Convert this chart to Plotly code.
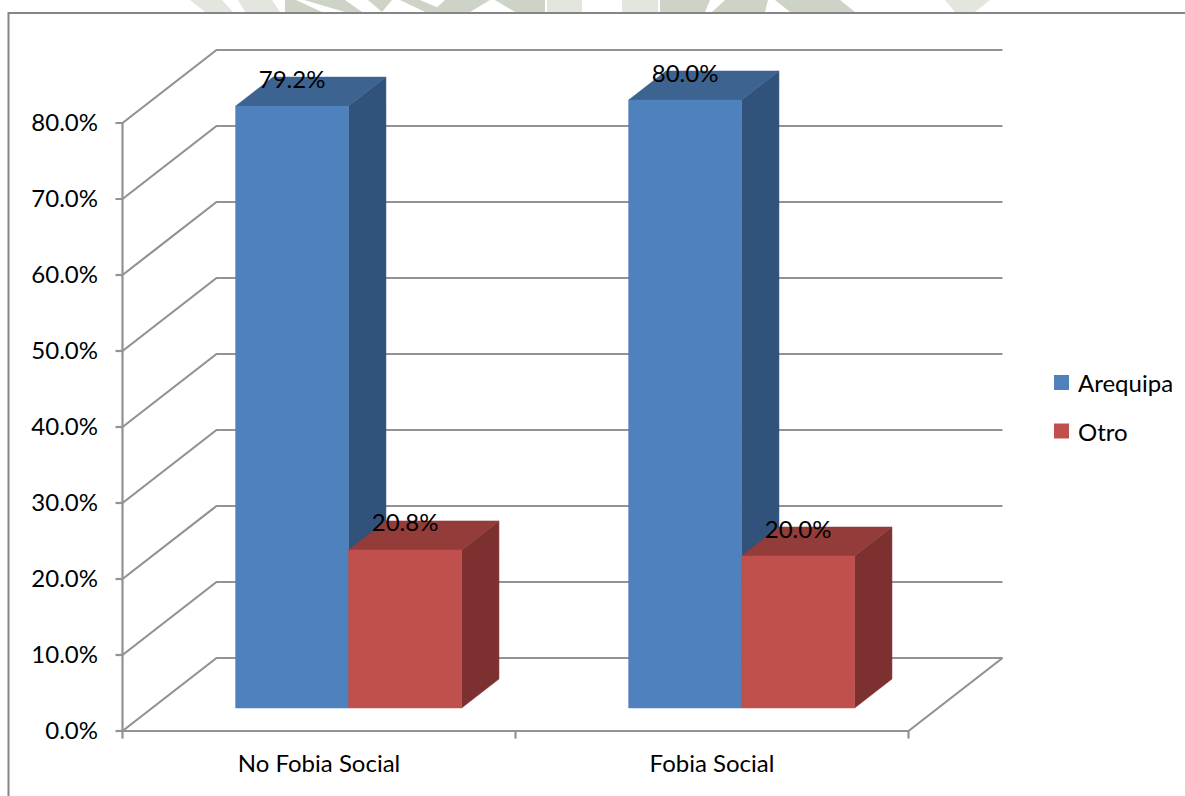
import plotly.graph_objects as go

categories = ["No Fobia Social", "Fobia Social"]
series_names = ["Arequipa", "Otro"]
arequipa = [79.2, 80.0]
otro = [20.8, 20.0]
tick_values = [0, 10, 20, 30, 40, 50, 60, 70, 80]

BLUE, BLUE_TOP, BLUE_SIDE = "#4f81bd", "#3d6390", "#31527a"
RED, RED_TOP, RED_SIDE = "#c0504d", "#933c3a", "#7c3130"
GRID = "#929292"
FONT = "Lato, Carlito, sans-serif"
FS = 24

W, H = 1185, 796
# page-pixel position of the chart box
X0_PX, X1_PX, Y0_PX, Y1_PX = 122.5, 1003.5, 731.0, 48.0
# extended plot window so tick stubs are inside the axes
XL_PX, YB_PX = 108.0, 745.0
CAT_PX = 393.0
PX_PER_PCT = 7.6

BOX_DX = 94.0 / CAT_PX
BOX_DY = 73.0 / PX_PER_PCT
D_START = 23.0 / 73.0
D_SPAN = 29.0 / 73.0
BAR_W = 113.0 / CAT_PX
X_MIN = -(X0_PX - XL_PX) / CAT_PX
X_MAX = (X1_PX - X0_PX) / CAT_PX
Y_MIN = -(YB_PX - Y0_PX) / PX_PER_PCT
Y_MAX = (Y0_PX - Y1_PX) / PX_PER_PCT


def proj(x, v, d):
    return x + d * BOX_DX, v + d * BOX_DY


def poly(points, color):
    xs = [p[0] for p in points] + [points[0][0]]
    ys = [p[1] for p in points] + [points[0][1]]
    return go.Scatter(x=xs, y=ys, mode="lines", fill="toself", fillcolor=color,
                      line=dict(color=color, width=0.5), hoverinfo="skip", showlegend=False)


def line(xs, ys, width=2.2):
    return go.Scatter(x=xs, y=ys, mode="lines", line=dict(color=GRID, width=width),
                      hoverinfo="skip", showlegend=False)


fig = go.Figure()

for v in tick_values:
    a = proj(0, v, 0)
    b = proj(0, v, 1)
    c = proj(len(categories), v, 1)
    fig.add_trace(line([a[0], b[0], c[0]], [a[1], b[1], c[1]]))
end = proj(len(categories), 0, 1)
fig.add_trace(line([0, len(categories), end[0]], [0, 0, end[1]]))
fig.add_trace(line([0, 0], [0, tick_values[-1]]))
for i in range(len(categories) + 1):
    fig.add_trace(line([i, i], [0, -1.0]))
for v in tick_values:
    fig.add_trace(line([-7.0 / CAT_PX, 0], [v, v]))


def add_bar(x_left, value, front, top, side):
    x_right = x_left + BAR_W
    d0, d1 = D_START, D_START + D_SPAN
    fl = proj(x_left, 0, d0)
    fr = proj(x_right, 0, d0)
    tl = proj(x_left, value, d0)
    tr = proj(x_right, value, d0)
    bl = proj(x_left, value, d1)
    br = proj(x_right, value, d1)
    rb = proj(x_right, 0, d1)
    fig.add_trace(poly([fr, tr, br, rb], side))
    fig.add_trace(poly([tl, tr, br, bl], top))
    fig.add_trace(poly([fl, fr, tr, tl], front))


GAP = (1 - 2 * BAR_W) / 2
for i in range(len(categories)):
    add_bar(i + GAP, arequipa[i], BLUE, BLUE_TOP, BLUE_SIDE)
    add_bar(i + GAP + BAR_W, otro[i], RED, RED_TOP, RED_SIDE)

# Data labels: centred on the front face horizontally, near the top back edge vertically
LABEL_DROP = 0.6
for i in range(len(categories)):
    for offset, val in ((GAP, arequipa[i]), (GAP + BAR_W, otro[i])):
        xf, _ = proj(i + offset + BAR_W / 2, val, D_START)
        _, yb = proj(i + offset + BAR_W / 2, val, D_START + D_SPAN)
        fig.add_trace(go.Scatter(x=[xf], y=[yb - LABEL_DROP], mode="text", text=[f"{val:.1f}%"],
                                 textposition="middle center", hoverinfo="skip", showlegend=False,
                                 textfont=dict(family=FONT, size=FS, color="#000000")))

WM = "#cdd3c6"
WM_PALE = "#e3e6df"
watermark = [
    ("M190,0 L205,12 L233,12 L222,0 Z", WM_PALE),
    ("M238,0 L245,12 L280,12 L272,0 Z", WM_PALE),
    ("M285,0 L285,12 L322,12 L296,0 Z", WM),
    ("M304,0 L345,12 L362,12 L345,0 Z", WM),
    ("M368,0 L382,12 L392,0 Z", WM),
    ("M400,0 L425,12 L448,12 L420,0 Z", WM),
    ("M445,0 L432,12 L470,12 L490,0 Z", WM),
    ("M495,0 L515,12 L545,12 L545,0 Z", WM),
    ("M547,0 L547,12 L582,12 L582,0 Z", WM_PALE),
    ("M622,0 L622,12 L658,12 L658,0 Z", WM_PALE),
    ("M660,0 L660,12 L705,12 L710,0 Z", WM),
    ("M725,0 L712,12 L765,12 L768,0 Z", WM),
    ("M775,0 L790,12 L855,12 L840,0 Z", WM),
    ("M945,0 L955,12 L975,12 L990,0 Z", WM_PALE),
]


def fx(x):
    return x / W


def fy(y):
    return 1 - y / H


def px_path(path):
    out = []
    for tok in path.split():
        if tok == "Z":
            out.append("Z")
            continue
        cmd, rest = tok[0], tok[1:]
        x, y = rest.split(",")
        out.append(f"{cmd}{fx(float(x)):.5f},{fy(float(y)):.5f}")
    return " ".join(out)


shapes = [dict(type="path", path=px_path(p), xref="paper", yref="paper", fillcolor=c,
               line=dict(width=0), layer="below") for p, c in watermark]
shapes.append(dict(type="path", xref="paper", yref="paper",
                   path=px_path("M8.5,800 L8.5,13 L1190,13"),
                   line=dict(color="#858585", width=2), layer="below"))

annotations = []
for name, color, cy in zip(series_names, [BLUE, RED], [382.5, 431.0]):
    shapes.append(dict(type="rect", xref="paper", yref="paper", x0=fx(1054), x1=fx(1069),
                       y0=fy(cy + 7.5), y1=fy(cy - 7.5), fillcolor=color, line=dict(width=0)))
    annotations.append(dict(text=name, xref="paper", yref="paper", x=fx(1076), y=fy(cy),
                            xanchor="left", yanchor="middle", showarrow=False,
                            font=dict(family=FONT, size=FS, color="#000000")))

fig.update_layout(
    width=W, height=H,
    margin=dict(l=0, r=0, t=0, b=0),
    paper_bgcolor="#ffffff", plot_bgcolor="rgba(0,0,0,0)",
    font=dict(family=FONT, size=FS, color="#000000"),
    showlegend=False,
    xaxis=dict(domain=[XL_PX / W, X1_PX / W], range=[X_MIN, X_MAX], showgrid=False, zeroline=False,
               showline=False, ticks="", tickmode="array", automargin=False,
               tickvals=[i + 0.5 for i in range(len(categories))], ticktext=categories,
               tickfont=dict(family=FONT, size=FS), ticklabelstandoff=2),
    yaxis=dict(domain=[1 - YB_PX / H, 1 - Y1_PX / H], range=[Y_MIN, Y_MAX], showgrid=False, zeroline=False,
               showline=False, ticks="", tickmode="array", tickvals=tick_values, automargin=False,
               ticktext=[f"{v:.1f}%" for v in tick_values],
               tickfont=dict(family=FONT, size=FS), ticklabelstandoff=9),
    shapes=shapes,
    annotations=annotations,
)
for t in fig.data:
    t.cliponaxis = False
fig.write_html("out.html", config={"displayModeBar": False},
               post_script="document.body.style.margin='0';document.body.style.overflow='hidden';")
